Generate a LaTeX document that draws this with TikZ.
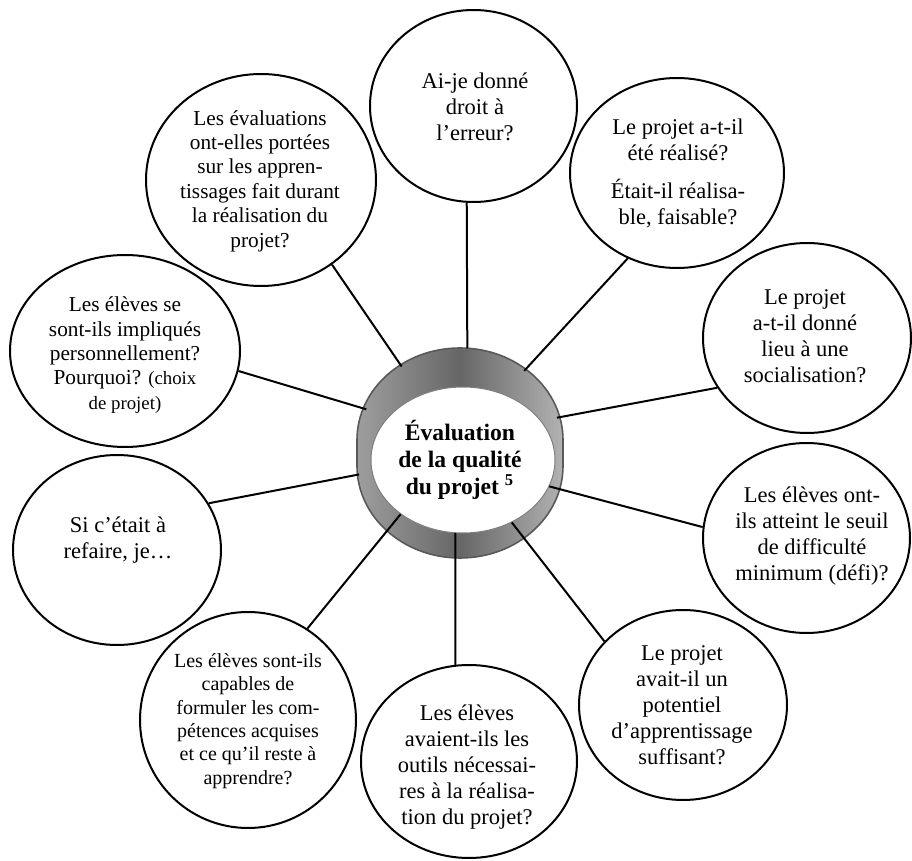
\documentclass[tikz,border=0pt]{standalone}
\usepackage{fontspec}
\setmainfont{Liberation Serif}
\usetikzlibrary{shapes.geometric}

\begin{document}
\begin{tikzpicture}[
    x=0.5pt, y=-0.5pt,
    every node/.style={font=\fontsize{11.25}{13}\selectfont},
    bubble/.style={ellipse, draw, line width=1pt, fill=white, inner sep=0pt},
    question/.style={align=center, inner sep=0pt},
    smallq/.style={question, font=\fontsize{10.65}{12.2}\selectfont},
    link/.style={line width=1pt}
]
\useasboundingbox (0,0) rectangle (912,861);

% bulles autour du centre
\node[bubble, minimum width=103.5pt, minimum height=96pt] (droit) at (473.5,106) {};
\node[bubble, minimum width=107pt, minimum height=95pt] (realise) at (677,173) {};
\node[bubble, minimum width=104pt, minimum height=95pt] (social) at (807,338) {};
\node[bubble, minimum width=103.5pt, minimum height=95pt] (defi) at (806.5,538) {};
\node[bubble, minimum width=104pt, minimum height=95pt] (potentiel) at (683,705) {};
\node[bubble, minimum width=108pt, minimum height=96.5pt] (outils) at (469,761.5) {};
\node[bubble, minimum width=108pt, minimum height=108pt] (competences) at (248,720) {};
\node[bubble, minimum width=104pt, minimum height=95pt] (refaire) at (117,550) {};
\node[bubble, minimum width=115pt, minimum height=96pt] (implique) at (125,351) {};
\node[bubble, minimum width=115pt, minimum height=106pt] (evaluations) at (261,180) {};

% cylindre central
\node[ellipse, minimum width=103pt, minimum height=105pt, inner sep=0pt, outer sep=0pt] (rim) at (460,453) {};
\shade[left color=black!38, right color=black!30, middle color=black!60, draw=black!65, line width=0.8pt]
  (357,440) arc[start angle=180, end angle=0, x radius=51.5pt, y radius=46pt]
  -- (563,466) arc[start angle=0, end angle=-180, x radius=51.5pt, y radius=46pt] -- cycle;
\node[ellipse, fill=white, draw=black!50, line width=0.5pt, minimum width=92pt, minimum height=73pt, inner sep=0pt] (hole) at (463,460) {};
\node[question, font=\bfseries\fontsize{11.8}{13.5}\selectfont] (titre) at (460,460) {Évaluation\\de la qualité\\du projet \textsuperscript{5}};

% textes des questions
\node[question] (tdroit) at (475,107) {Ai-je donné\\droit à\\l’erreur?};
\node[question] (trealise) at (678,173) {Le projet a-t-il\\été réalisé?\\[6pt]Était-il réalisa-\\ble, faisable?};
\node[question] (tsocial) at (805,336) {Le projet\\a-t-il donné\\lieu à une\\socialisation?};
\node[question] (tdefi) at (812,536) {Les élèves ont-\\ils atteint le seuil\\de difficulté\\minimum (défi)?};
\node[question] (tpotentiel) at (682,705) {Le projet\\avait-il un\\potentiel\\d’apprentissage\\suffisant?};
\node[question] (toutils) at (467,767) {Les élèves\\avaient-ils les\\outils nécessai-\\res à la réalisa-\\tion du projet?};
\node[question, font=\fontsize{10}{11.7}\selectfont] (tcompetences) at (248,721) {Les élèves sont-ils\\capables de\\formuler les com-\\pétences acquises\\et ce qu’il reste à\\apprendre?};
\node[question] (trefaire) at (118,540) {Si c’était à\\refaire, je…};
\node[smallq] (timplique) at (125,355) {Les élèves se\\sont-ils impliqués\\personnellement?\\Pourquoi? {\fontsize{9.4}{12.2}\selectfont(choix}\\{\fontsize{9.4}{12.2}\selectfont de projet)}};
\node[smallq] (tevaluations) at (260,181) {Les évaluations\\ont-elles portées\\sur les appren-\\tissages fait durant\\la réalisation du\\projet?};

% liens
\draw[link] (droit.-94) -- (rim.86);
\draw[link] (realise.240) -- (rim.52);
\draw[link] (social.209) -- (rim.20);
\draw[link] (defi.174) -- (hole.-17);
\draw[link] (potentiel.141) -- (hole.-52);
\draw[link] (outils.98) -- (hole.-96);
\draw[link] (competences.57) -- (hole.-139);
\draw[link] (refaire.27) -- (rim.192);
\draw[link] (implique.-10) -- (rim.155);
\draw[link] (evaluations.-50) -- (rim.124);
\end{tikzpicture}
\end{document}
